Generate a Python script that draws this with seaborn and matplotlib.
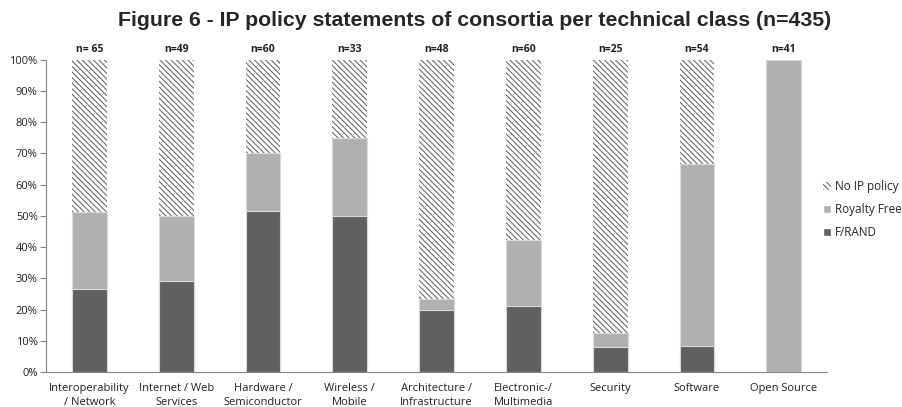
import matplotlib
matplotlib.use("Agg")
import matplotlib.pyplot as plt
import matplotlib.patches as mpatches
import seaborn as sns
import pandas as pd
import numpy as np

categories = ["Interoperability\n/ Network", "Internet / Web\nServices", "Hardware /\nSemiconductor",
              "Wireless /\nMobile", "Architecture /\nInfrastructure", "Electronic-/\nMultimedia",
              "Security", "Software", "Open Source"]
n_labels = ["n= 65", "n=49", "n=60", "n=33", "n=48", "n=60", "n=25", "n=54", "n=41"]
frand = [26.7, 29.2, 51.7, 50.0, 20.0, 21.0, 8.0, 8.3, 0.0]
royalty_free = [24.6, 20.8, 18.6, 25.0, 3.3, 21.2, 4.4, 58.4, 100.0]
no_ip = [100 - a - b for a, b in zip(frand, royalty_free)]

sns.set_theme(style="white")
plt.rcParams['font.family'] = ['Open Sans', 'DejaVu Sans']
plt.rcParams['hatch.linewidth'] = 0.7

df = pd.DataFrame({"cat": categories, "frand": frand, "rf": royalty_free, "noip": no_ip})
df["top2"] = df["frand"] + df["rf"]
df["total"] = df["top2"] + df["noip"]

fig = plt.figure(figsize=(9.03, 4.07), dpi=100)
ax = fig.add_axes([0.051, 0.086, 0.865, 0.767])

W = 0.4
HATCH = "\\" * 6
sns.barplot(data=df, x="cat", y="total", ax=ax, color="white", width=W,
            hatch=HATCH, edgecolor="#5a5a5a", linewidth=0, saturation=1)
sns.barplot(data=df, x="cat", y="top2", ax=ax, color="#b0b0b0", width=W,
            edgecolor="#d9d9d9", linewidth=0.8, saturation=1)
sns.barplot(data=df, x="cat", y="frand", ax=ax, color="#606060", width=W,
            edgecolor="#d9d9d9", linewidth=0.8, saturation=1)

ax.set_ylim(0, 100)
ax.set_xlim(-0.5, len(categories) - 0.5)
ax.set_yticks(np.arange(0, 101, 10))
ax.set_yticklabels([f"{v}%" for v in range(0, 101, 10)], fontsize=8, color="#222222")
ax.set_xticks(range(len(categories)))
ax.set_xticklabels(categories, fontsize=8, color="#222222", linespacing=1.35)
ax.set_xticks(np.arange(-0.5, len(categories), 1), minor=True)
ax.tick_params(axis="x", which="major", length=0, pad=8)
ax.tick_params(axis="x", which="minor", length=5, color="#868686", direction="out", width=0.8)
ax.tick_params(axis="y", length=4, color="#868686", direction="out", width=0.8, pad=2)
ax.tick_params(axis="both", bottom=True, left=True)
ax.set_xlabel("")
ax.set_ylabel("")
for s in ["top", "right"]:
    ax.spines[s].set_visible(False)
for s in ["left", "bottom"]:
    ax.spines[s].set_color("#868686")
    ax.spines[s].set_linewidth(0.8)

for i, lab in enumerate(n_labels):
    ax.text(i, 101.5, lab, ha="center", va="bottom", fontsize=7.5, fontweight="bold",
            color="#222222", clip_on=False)

fig.text(0.526, 0.95, "Figure 6 - IP policy statements of consortia per technical class (n=435)",
         ha="center", va="center", fontsize=15.3, fontweight="bold", family="Liberation Sans")

handles = [
    mpatches.Patch(facecolor="white", hatch=HATCH, edgecolor="#5a5a5a", linewidth=0, label="No IP policy"),
    mpatches.Patch(facecolor="#b0b0b0", label="Royalty Free"),
    mpatches.Patch(facecolor="#606060", label="F/RAND"),
]
fig.legend(handles=handles, loc="upper left", bbox_to_anchor=(0.905, 0.572), frameon=False,
           fontsize=8.5, handlelength=0.7, handleheight=0.7, handletextpad=0.3, labelspacing=0.85,
           borderpad=0)

fig.savefig("out.png", dpi=100)
